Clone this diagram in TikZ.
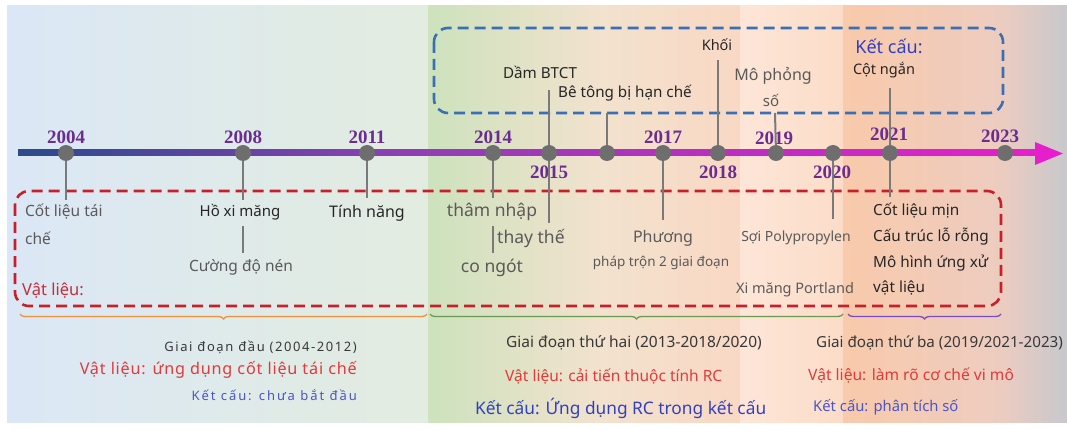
\documentclass[tikz,border=0pt]{standalone}
\usepackage{fontspec}
\setmainfont{Noto Sans}
\newfontfamily\yearfont{Liberation Serif}
\newfontfamily\spacedfont[LetterSpace=12]{Noto Sans}
\newfontfamily\spacedfontB[LetterSpace=5]{Noto Sans}
\newfontfamily\spacedfontC[LetterSpace=15]{Noto Sans}
\usetikzlibrary{decorations.pathreplacing}
\definecolor{bgA}{HTML}{DBE7F6}
\definecolor{bgB}{HTML}{E0EBE6}
\definecolor{bgC}{HTML}{E3ECE0}
\definecolor{bgD}{HTML}{CDE2BD}
\definecolor{bgE}{HTML}{F2E2CE}
\definecolor{bgF}{HTML}{F9D8C4}
\definecolor{bgG}{HTML}{FDE6D8}
\definecolor{bgH}{HTML}{FCDCC8}
\definecolor{bgI}{HTML}{F9CAAB}
\definecolor{bgJ}{HTML}{EDCCC0}
\definecolor{bgK}{HTML}{C8C8CC}
\definecolor{tlA}{HTML}{2B4A8C}
\definecolor{tlB}{HTML}{8E3FB5}
\definecolor{tlC}{HTML}{E51FCC}
\definecolor{dotgray}{HTML}{6E6E6E}
\definecolor{conngray}{HTML}{7A7A7A}
\definecolor{yearpurple}{HTML}{6B2D90}
\definecolor{txtgray}{HTML}{5A5A5A}
\definecolor{txtdark}{HTML}{262626}
\definecolor{boxred}{HTML}{C8202A}
\definecolor{boxblue}{HTML}{3B6FB5}
\definecolor{lblred}{HTML}{C0303A}
\definecolor{lblblue}{HTML}{3140C0}
\definecolor{bred}{HTML}{E03A3A}
\definecolor{bblue}{HTML}{4A55C8}
\definecolor{bgray}{HTML}{383838}
\definecolor{brOrange}{HTML}{F0903C}
\definecolor{brGreen}{HTML}{6A9A50}
\definecolor{brPurple}{HTML}{7A4AC0}
\newcommand\fsY{\fontsize{19}{21}\selectfont}
\tikzset{
  fs/.style={font=\fontsize{#1}{#1}\selectfont},
  dot/.style={circle,fill=dotgray,minimum size=16pt,inner sep=0pt},
  conn/.style={draw=conngray,line width=2pt},
  yr/.style={text=yearpurple,font=\yearfont\bfseries\fsY,inner sep=0pt},
  lg/.style={text=txtgray,fs=15,inner sep=0pt},
  ld/.style={text=txtdark,fs=15,inner sep=0pt},
  dashbox/.style={line width=2.6pt,rounded corners=14pt,dash pattern=on 11pt off 6pt},
  bracestyle/.style={line width=1.3pt,decorate,decoration={brace,mirror,amplitude=5pt}},
  bt/.style={inner sep=0pt,anchor=west}
}
\begin{document}
\begin{tikzpicture}[x=1pt,y=-1pt]
\useasboundingbox (0,0) rectangle (1067,430);
% background
\fill[white] (0,0) rectangle (1067,430);
\shade[left color=bgA,right color=bgB] (7,6) rectangle (300.5,422);
\shade[left color=bgB,right color=bgC] (300,6) rectangle (429,422);
\shade[left color=bgD,right color=bgE] (428.5,6) rectangle (600.5,422);
\shade[left color=bgE,right color=bgF] (600,6) rectangle (740.5,422);
\shade[left color=bgG,right color=bgH] (740,6) rectangle (843.5,422);
\shade[left color=bgI,right color=bgJ] (843,6) rectangle (1000.5,422);
\shade[left color=bgJ,right color=bgK] (1000,6) rectangle (1067,422);
% dashed boxes
\draw[dashbox,draw=boxblue] (434,28) rectangle (1003,113);
\draw[dashbox,draw=boxred] (15,191) rectangle (1001,306);
% timeline
\shade[left color=tlA,right color=tlB] (18,150) rectangle (400.5,156);
\shade[left color=tlB,right color=tlC] (400,150) rectangle (1036,156);
\fill[tlC] (1035,142) -- (1063,153.5) -- (1035,165) -- cycle;
% dots
\node[dot] (d2004) at (66,153) {};
\node[dot] (d2008) at (243,153) {};
\node[dot] (d2011) at (367,153) {};
\node[dot] (d2014) at (493,153) {};
\node[dot] (d2015) at (549,153) {};
\node[dot] (d2016) at (607,153) {};
\node[dot] (d2017) at (663,153) {};
\node[dot] (d2018) at (718,153) {};
\node[dot] (d2019) at (776,153) {};
\node[dot] (d2020) at (833,153) {};
\node[dot] (d2021) at (890,153) {};
\node[dot] (d2023) at (1005,153) {};
% years
\node[yr] (y2004) at (66,137) {2004};
\node[yr] (y2008) at (243,137) {2008};
\node[yr] (y2011) at (367,137) {2011};
\node[yr] (y2014) at (493,137) {2014};
\node[yr] (y2017) at (663,137) {2017};
\node[yr] (y2019) at (774,138) {2019};
\node[yr] (y2021) at (889,134) {2021};
\node[yr] (y2023) at (1000,136) {2023};
\node[yr] (y2015) at (549,172) {2015};
\node[yr] (y2018) at (718,172) {2018};
\node[yr] (y2020) at (832,172) {2020};
% connector end points
\coordinate (c2004) at (66,200);
\coordinate (c2008) at (243,200);
\coordinate (c2011) at (367,198);
\coordinate (c2014) at (493,198);
\coordinate (c2015u) at (549,90);
\coordinate (c2015d) at (549,223);
\coordinate (c2016) at (607,113);
\coordinate (c2017) at (663,220);
\coordinate (c2018) at (718,60);
\coordinate (c2019) at (775,113);
\coordinate (c2020) at (833,219);
\coordinate (c2021u) at (890,88);
\coordinate (c2021d) at (890,197);
\draw[conn] (d2004) -- (c2004);
\draw[conn] (d2008) -- (c2008);
\draw[conn] (d2011) -- (c2011);
\draw[conn] (d2014) -- (c2014);
\draw[conn] (d2015) -- (c2015u);
\draw[conn] (d2015) -- (c2015d);
\draw[conn] (d2016) -- (c2016);
\draw[conn] (d2017) -- (c2017);
\draw[conn] (d2018) -- (c2018);
\draw[conn] (d2019) -- (c2019);
\draw[conn] (d2020) -- (c2020);
\draw[conn] (d2021) -- (c2021u);
\draw[conn] (d2021) -- (c2021d);
% material labels
\node[lg,fs=15.5,anchor=west] (t1a) at (25,212) {Cốt liệu tái};
\node[lg,fs=15.5,anchor=west] (t1b) at (25,238) {chế};
\node[ld,fs=15] (t2a) at (240,212) {Hồ xi măng};
\node[lg,fs=15.5] (t2b) at (241,267) {Cường độ nén};
\coordinate (c2a) at (243,226);
\coordinate (c2b) at (243,253);
\draw[conn] (c2a) -- (c2b);
\node[ld,fs=16] (t3) at (367,213) {Tính năng};
\node[lg,fs=17.5] (t4a) at (492,212) {thâm nhập};
\node[lg,fs=17.5,anchor=west] (t4b) at (497,238) {thay thế};
\node[lg,fs=17.5] (t4c) at (492,268) {co ngót};
\coordinate (c4a) at (493,226);
\coordinate (c4b) at (493,253);
\draw[conn] (c4a) -- (c4b);
\node[lg,fs=16] (t5a) at (663,238) {Phương};
\node[lg,fs=13.5] (t5b) at (661,263) {pháp trộn 2 giai đoạn};
\node[lg,fs=14] (t6a) at (796,238) {Sợi Polypropylen};
\node[lg,fs=14.5] (t6b) at (795,290) {Xi măng Portland};
\node[ld,fs=15.3,anchor=base west] (t7a) at (873,216) {Cốt liệu mịn};
\node[ld,fs=15.3,anchor=base west] (t7b) at (873,242) {Cấu trúc lỗ rỗng};
\node[ld,fs=15.3,anchor=base west] (t7c) at (873,267) {Mô hình ứng xử};
\node[ld,fs=15.3,anchor=base west] (t7d) at (873,292) {vật liệu};
\node[inner sep=0pt,anchor=west,text=lblred,fs=16.5] (vl) at (22,291) {Vật liệu:};
% structure labels
\node[ld,fs=15.2] (s1) at (540,72) {Dầm BTCT};
\node[ld,fs=15.2,anchor=west] (s2) at (558,93) {Bê tông bị hạn chế};
\node[ld,fs=14.5] (s3) at (717,45) {Khối};
\node[lg,fs=16] (s4a) at (773,76) {Mô phỏng};
\node[lg,fs=15] (s4b) at (771,100) {số};
\node[inner sep=0pt,text=lblblue,font=\fontsize{18}{18}\selectfont\bfseries] (kc) at (889,46) {Kết cấu:};
\node[ld,fs=14.5] (s5) at (884,70) {Cột ngắn};
% braces
\coordinate (b1s) at (20,314);
\coordinate (b1e) at (427,314);
\coordinate (b2s) at (430,314);
\coordinate (b2e) at (843,314);
\coordinate (b3s) at (848,314);
\coordinate (b3e) at (1001,314);
\draw[bracestyle,draw=brOrange] (b1s) -- (b1e);
\draw[bracestyle,draw=brGreen] (b2s) -- (b2e);
\draw[bracestyle,draw=brPurple] (b3s) -- (b3e);
% phase texts
\node[inner sep=0pt,anchor=east,text=bgray,font=\spacedfont\fontsize{13}{13}\selectfont] (p1a) at (357,347) {Giai đoạn đầu (2004-2012)};
\node[inner sep=0pt,anchor=east,text=bred,font=\spacedfontB\fontsize{16.2}{17}\selectfont] (p1b) at (357,370) {Vật liệu: ứng dụng cốt liệu tái chế};
\node[inner sep=0pt,anchor=east,text=bblue,font=\spacedfontC\fontsize{13}{13}\selectfont] (p1c) at (357,395) {Kết cấu: chưa bắt đầu};
\node[bt,text=bgray,fs=15.5] (p2a) at (506,343) {Giai đoạn thứ hai (2013-2018/2020)};
\node[bt,text=bred,fs=15.5] (p2b) at (505,376) {Vật liệu: cải tiến thuộc tính RC};
\node[bt,text=lblblue,fs=17.3] (p2c) at (475,408) {Kết cấu: Ứng dụng RC trong kết cấu};
\node[bt,text=bgray,fs=15.2] (p3a) at (816,343) {Giai đoạn thứ ba (2019/2021-2023)};
\node[bt,text=bred,fs=15.6] (p3b) at (808,376) {Vật liệu: làm rõ cơ chế vi mô};
\node[bt,text=bblue,fs=14.8] (p3c) at (813,407) {Kết cấu: phân tích số};
\end{tikzpicture}
\end{document}
